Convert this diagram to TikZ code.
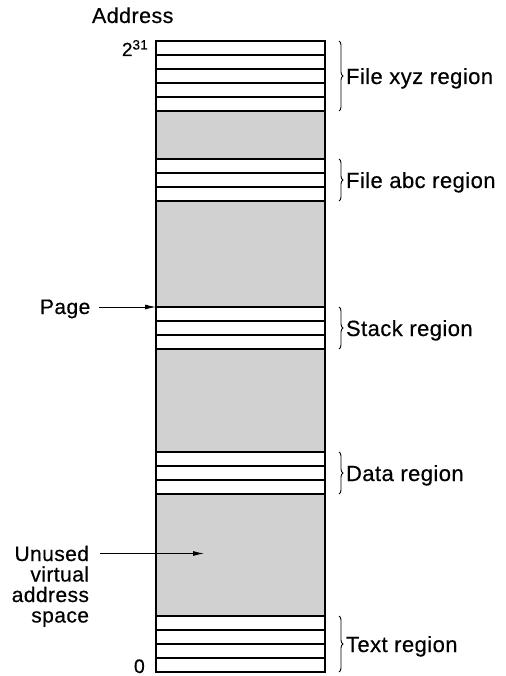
\documentclass[tikz,border=0pt]{standalone}
\usepackage{fontspec}
\setmainfont{Liberation Sans}[FakeBold=0.4,LetterSpace=2]
\usetikzlibrary{decorations.pathreplacing,arrows.meta}
\begin{document}
\begin{tikzpicture}[x=1pt,y=1pt,
  cell/.style={draw=black, line width=1.5pt, fill=white, minimum width=169pt, minimum height=14pt, inner sep=0pt, outer sep=0pt, anchor=north west},
  free/.style={draw=black, line width=1.5pt, fill=black!18, minimum width=169pt, inner sep=0pt, outer sep=0pt, anchor=north west},
  lbl/.style={inner sep=0pt, outer sep=0pt, font=\fontsize{22}{24}\selectfont},
  brc/.style={decorate, decoration={brace, amplitude=4pt}, line width=0.9pt},
  arr/.style={-{Latex[length=11pt,width=5pt]}, line width=0.9pt}]
\useasboundingbox (0,0) rectangle (505,-676);
% unused (grey) blocks
\node[free, minimum height=48pt]  (g1) at (156,-111) {};
\node[free, minimum height=108pt] (g2) at (156,-201) {};
\node[free, minimum height=103pt] (g3) at (156,-349) {};
\node[free, minimum height=122pt] (g4) at (156,-494) {};
% pages
\foreach \t [count=\i] in {41,55,69,83,97} \node[cell] (xyz\i) at (156,-\t) {};
\foreach \t [count=\i] in {159,173,187} \node[cell] (abc\i) at (156,-\t) {};
\foreach \t [count=\i] in {307,321,335} \node[cell] (stk\i) at (156,-\t) {};
\foreach \t [count=\i] in {452,466,480} \node[cell] (dat\i) at (156,-\t) {};
\foreach \t [count=\i] in {616,630,644,658} \node[cell] (txt\i) at (156,-\t) {};
% braces and region labels
\draw[brc] ([xshift=14pt]xyz1.north east) -- ([xshift=14pt]xyz5.south east)
  node[lbl, midway, anchor=base west, xshift=7pt, yshift=-8pt] (lxyz) {File xyz region};
\draw[brc] ([xshift=14pt]abc1.north east) -- ([xshift=14pt]abc3.south east)
  node[lbl, midway, anchor=base west, xshift=7pt, yshift=-8pt] (labc) {File abc region};
\draw[brc] ([xshift=14pt]stk1.north east) -- ([xshift=14pt]stk3.south east)
  node[lbl, midway, anchor=base west, xshift=7pt, yshift=-8pt] (lstk) {Stack region};
\draw[brc] ([xshift=14pt]dat1.north east) -- ([xshift=14pt]dat3.south east)
  node[lbl, midway, anchor=base west, xshift=7pt, yshift=-8pt] (ldat) {Data region};
\draw[brc] ([xshift=14pt]txt1.north east) -- ([xshift=14pt]txt4.south east)
  node[lbl, midway, anchor=base west, xshift=7pt, yshift=-8pt] (ltxt) {Text region};
% address labels
\node[lbl, font=\fontsize{21.5}{24}\selectfont, anchor=base west] (addr) at (92,-23) {Address};
\node[inner sep=0pt, anchor=base east] (hi) at (148,-56) {\fontsize{19}{19}\selectfont 2\raisebox{6.5pt}{\fontsize{13.5}{14}\selectfont 31}};
\node[inner sep=0pt, anchor=base east] (lo) at (145,-673) {\fontsize{19.5}{20}\selectfont 0};
% page arrow
\node[lbl, font=\fontsize{21}{24}\selectfont, anchor=base west] (page) at (40,-314) {Page};
\path (page.east) ++(9pt,0) coordinate (pstart);
\draw[arr] (pstart |- stk1.north west) -- (stk1.north west);
% unused label and arrow
\node[lbl, font=\fontsize{21}{24}\selectfont, anchor=base east] (un1) at (89,-561) {Unused};
\node[lbl, font=\fontsize{21}{24}\selectfont, anchor=base east] (un2) at (89,-581.5) {virtual};
\node[lbl, font=\fontsize{21}{24}\selectfont, anchor=base east] (un3) at (89,-602) {address};
\node[lbl, font=\fontsize{21}{24}\selectfont, anchor=base east] (un4) at (89,-622.5) {space};
\path (un1.east) ++(11pt,0) coordinate (ustart);
\coordinate (uend) at (204,-554);
\draw[arr] (ustart) -- (uend |- ustart);
\end{tikzpicture}
\end{document}
